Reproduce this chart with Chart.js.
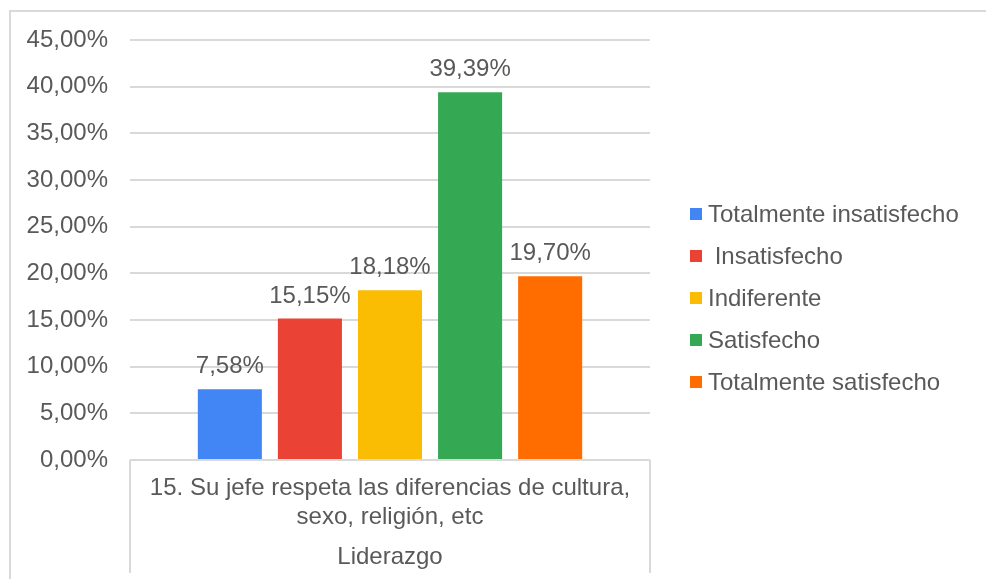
<!DOCTYPE html>
<html>
<head>
<meta charset="utf-8">
<script src="https://cdn.jsdelivr.net/npm/chart.js@4.4.1/dist/chart.umd.min.js"></script>
<style>
  html, body { margin: 0; padding: 0; background: #fff; overflow: hidden; }
  #frame { position: absolute; left: 9px; top: 10px; width: 1100px; height: 700px;
           border-left: 2px solid #d9d9d9; border-top: 2px solid #d9d9d9; }
  #wrap { position: absolute; left: 0; top: 0; width: 986px; height: 579px; }
</style>
</head>
<body>
<div id="frame"></div>
<div id="wrap"><canvas id="chart"></canvas></div>
<script>
// data
const categories = [['15. Su jefe respeta las diferencias de cultura,', 'sexo, religión, etc']];
const groupLabel = 'Liderazgo';
const seriesNames = ['Totalmente insatisfecho', ' Insatisfecho', 'Indiferente', 'Satisfecho', 'Totalmente satisfecho'];
const seriesValues = [7.58, 15.15, 18.18, 39.39, 19.70];
const seriesColors = ['#4285F4', '#EA4335', '#FBBC04', '#34A853', '#FF6D01'];
const yMax = 45;
const yStep = 5;

const TEXT = '#595959';
const GRID = '#d9d9d9';
const FONT_SIZE = 24;
const FAMILY = "'Liberation Sans', Arial, sans-serif";

Chart.defaults.font.family = FAMILY;
Chart.defaults.font.size = FONT_SIZE;
Chart.defaults.color = TEXT;

const pct = v => v.toFixed(2).replace('.', ',') + '%';

// numbers above the bars
const valueLabels = {
    id: 'valueLabels',
    afterDatasetsDraw(chart) {
        const ctx = chart.ctx;
        ctx.save();
        ctx.font = FONT_SIZE + 'px ' + FAMILY;
        ctx.fillStyle = TEXT;
        ctx.textAlign = 'center';
        ctx.textBaseline = 'alphabetic';
        chart.data.datasets.forEach((ds, i) => {
            chart.getDatasetMeta(i).data.forEach((bar, j) => {
                ctx.fillText(pct(ds.data[j]), bar.x, bar.y - 16);
            });
        });
        ctx.restore();
    }
};

// legend on the right, Excel style (small box, tight gap)
const sideLegend = {
    id: 'sideLegend',
    afterDraw(chart) {
        const ctx = chart.ctx;
        const x0 = chart.chartArea.right + 40;
        const y0 = 214, step = 42, box = 12;
        ctx.save();
        ctx.font = FONT_SIZE + 'px ' + FAMILY;
        ctx.textAlign = 'left';
        ctx.textBaseline = 'middle';
        chart.data.datasets.forEach((ds, i) => {
            const y = y0 + i * step;
            ctx.fillStyle = ds.backgroundColor;
            ctx.fillRect(x0, y - box / 2, box, box);
            ctx.fillStyle = TEXT;
            ctx.fillText(ds.label, x0 + box + 6, y + 1);
        });
        ctx.restore();
    }
};

new Chart(
    document.getElementById('chart'),
    {
        type: 'bar',
        data: {
            labels: categories,
            datasets: seriesNames.map((name, i) => ({
                label: name,
                data: [seriesValues[i]],
                backgroundColor: seriesColors[i],
                categoryPercentage: 0.77,
                barPercentage: 0.8
            }))
        },
        options: {
            responsive: true,
            maintainAspectRatio: false,
            animation: false,
            layout: {
                padding: { left: 27, right: 336, top: 40, bottom: 0 }
            },
            plugins: {
                legend: { display: false },
                tooltip: { enabled: false }
            },
            scales: {
                x: {
                    border: { display: false },
                    grid: {
                        offset: true,
                        drawOnChartArea: false,
                        drawTicks: true,
                        tickLength: 113,
                        color: GRID,
                        lineWidth: 2
                    },
                    ticks: {
                        padding: -99,
                        maxRotation: 0,
                        autoSkip: false
                    },
                    title: {
                        display: true,
                        text: groupLabel,
                        padding: { top: 0, bottom: 7 }
                    },
                    afterFit: scale => { scale.height = 119; }
                },
                y: {
                    min: 0,
                    max: yMax,
                    border: { display: false },
                    grid: {
                        drawTicks: false,
                        color: GRID,
                        lineWidth: 2
                    },
                    ticks: {
                        stepSize: yStep,
                        padding: 22,
                        callback: v => pct(v)
                    },
                    afterFit: scale => { scale.width = 103; }
                }
            }
        },
        plugins: [valueLabels, sideLegend]
    }
);
</script>
</body>
</html>
